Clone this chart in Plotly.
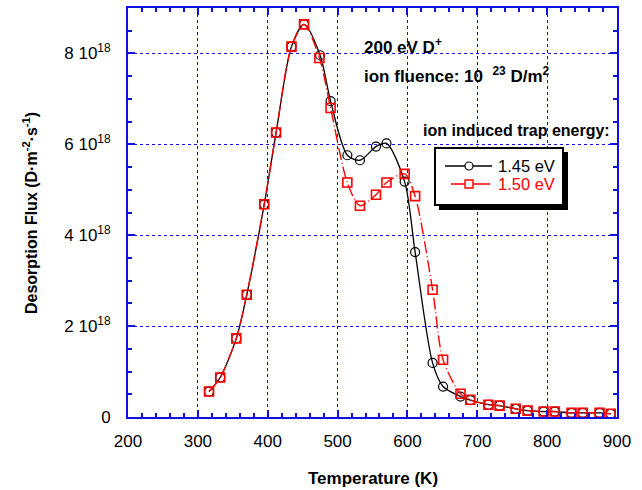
import plotly.graph_objects as go

# Temperature (K) of the TDS data points
temp_145 = [316, 332, 355, 370, 395, 412, 434, 452, 475, 490, 514, 532, 555, 570,
            596, 611, 636, 651, 676, 690, 716, 732, 755, 772, 795, 811, 835, 851, 875, 891]
# Desorption flux (units of 1e18 D m^-2 s^-1), trap energy 1.45 eV
flux_145 = [0.56, 0.87, 1.73, 2.69, 4.68, 6.26, 8.15, 8.64, 7.96, 6.95, 5.76, 5.65, 5.95, 6.02,
            5.18, 3.63, 1.19, 0.67, 0.45, 0.37, 0.27, 0.25, 0.18, 0.14, 0.12, 0.12, 0.09, 0.09, 0.09, 0.07]

temp_150 = [316, 332, 355, 370, 395, 412, 434, 452, 474, 490, 514, 532, 555, 570,
            596, 611, 636, 651, 676, 690, 716, 732, 755, 772, 795, 811, 835, 851, 875, 891]
# Desorption flux (units of 1e18 D m^-2 s^-1), trap energy 1.50 eV
flux_150 = [0.56, 0.87, 1.73, 2.69, 4.68, 6.26, 8.15, 8.64, 7.90, 6.80, 5.16, 4.65, 4.89, 5.16,
            5.35, 4.86, 2.80, 1.26, 0.51, 0.38, 0.27, 0.25, 0.18, 0.14, 0.12, 0.12, 0.09, 0.09, 0.09, 0.07]

y_tick_vals = [0, 2, 4, 6, 8]
y_tick_text = ["0", "2 10<sup>18</sup>", "4 10<sup>18</sup>", "6 10<sup>18</sup>", "8 10<sup>18</sup>"]
x_tick_vals = [200, 300, 400, 500, 600, 700, 800, 900]

SCALE = 1e18
FONT = "Liberation Sans, Arial, sans-serif"
BLUE = "#1010e0"

# plot area in pixels
W, H = 642, 490
L, R, T, B = 128, 25, 8, 73
PW, PH = W - L - R, H - T - B


def px(xp):
    return (xp - L) / PW


def py(yp):
    return (H - B - yp) / PH


fig = go.Figure()

fig.add_trace(go.Scatter(
    x=temp_145, y=[v * SCALE for v in flux_145], mode="lines+markers",
    line=dict(color="black", width=1.3, shape="spline", smoothing=0.8),
    marker=dict(symbol="circle-open", size=9, color="black", line=dict(width=1.2)),
    name="1.45 eV", showlegend=False,
))
fig.add_trace(go.Scatter(
    x=temp_150, y=[v * SCALE for v in flux_150], mode="lines+markers",
    line=dict(color="#ff0000", width=1.4, shape="spline", smoothing=0.8,
              dash="12px,3px,1px,3px"),
    marker=dict(symbol="square-open", size=9, color="#ff0000", line=dict(width=1.6)),
    name="1.50 eV", showlegend=False,
))

axis_common = dict(
    showline=True, linecolor=BLUE, linewidth=2, mirror="ticks",
    ticks="inside", tickcolor=BLUE, tickwidth=1.5, ticklen=7,
    showgrid=True, gridcolor=BLUE, griddash="dot", gridwidth=1,
    zeroline=False,
    tickfont=dict(family=FONT, size=17, color="black"),
)

fig.update_xaxes(
    range=[200, 900], tickvals=x_tick_vals,
    minor=dict(dtick=20, ticks="inside", ticklen=4, tickcolor=BLUE, showgrid=False),
    ticklabelstandoff=8,
    **axis_common,
)
fig.update_yaxes(
    range=[0, 9 * SCALE], tickvals=[v * SCALE for v in y_tick_vals], ticktext=y_tick_text,
    minor=dict(dtick=0.5 * SCALE, ticks="inside", ticklen=4, tickcolor=BLUE, showgrid=False),
    ticklabelstandoff=12,
    **axis_common,
)

annotations = [
    dict(text="<b>Temperature (K)</b>", x=0.5, y=py(478), xref="paper", yref="paper",
         showarrow=False, xanchor="center", yanchor="middle",
         font=dict(family=FONT, size=17, color="black")),
    dict(text="<b>Desorption Flux (D·m<sup>-2</sup>·s<sup>-1</sup>)</b>", x=px(30), y=py(213),
         xref="paper", yref="paper", showarrow=False, textangle=-90,
         xanchor="center", yanchor="middle",
         font=dict(family=FONT, size=16, color="black")),
    dict(text="<b>200 eV D<sup>+</sup></b>", x=px(362), y=py(46), xref="paper", yref="paper",
         showarrow=False, xanchor="left", yanchor="middle",
         font=dict(family=FONT, size=17, color="black")),
    dict(text="<b>ion fluence: 10&nbsp; <sup>23</sup> D/m<sup>2</sup></b>", x=px(362), y=py(75),
         xref="paper", yref="paper", showarrow=False, xanchor="left", yanchor="middle",
         font=dict(family=FONT, size=17, color="black")),
    dict(text="<b>ion induced trap energy:</b>", x=px(421), y=py(130), xref="paper", yref="paper",
         showarrow=False, xanchor="left", yanchor="middle",
         font=dict(family=FONT, size=16, color="black")),
    dict(text="1.45 eV", x=px(496), y=py(166), xref="paper", yref="paper",
         showarrow=False, xanchor="left", yanchor="middle",
         font=dict(family=FONT, size=16.5, color="black")),
    dict(text="1.50 eV", x=px(496), y=py(184), xref="paper", yref="paper",
         showarrow=False, xanchor="left", yanchor="middle",
         font=dict(family=FONT, size=16.5, color="#ff0000")),
]

shapes = [
    # legend drop shadow and frame
    dict(type="rect", xref="paper", yref="paper", x0=px(439), x1=px(568), y0=py(210), y1=py(152),
         fillcolor="black", line=dict(width=0), layer="above"),
    dict(type="rect", xref="paper", yref="paper", x0=px(435), x1=px(563), y0=py(205), y1=py(148),
         fillcolor="white", line=dict(color="black", width=2), layer="above"),
    # legend line samples
    dict(type="line", xref="paper", yref="paper", x0=px(445), x1=px(492), y0=py(166), y1=py(166),
         line=dict(color="black", width=1.3), layer="above"),
    dict(type="line", xref="paper", yref="paper", x0=px(451), x1=px(490), y0=py(184), y1=py(184),
         line=dict(color="#ff0000", width=1.4), layer="above"),
    # legend markers
    dict(type="circle", xref="paper", yref="paper", xsizemode="pixel", ysizemode="pixel",
         xanchor=px(469), yanchor=py(166), x0=-4, x1=4, y0=-4, y1=4,
         fillcolor="white", line=dict(color="black", width=1.2), layer="above"),
    dict(type="rect", xref="paper", yref="paper", xsizemode="pixel", ysizemode="pixel",
         xanchor=px(469), yanchor=py(184), x0=-4, x1=4, y0=-4, y1=4,
         fillcolor="white", line=dict(color="#ff0000", width=1.4), layer="above"),
]

fig.update_layout(
    width=W, height=H,
    margin=dict(l=L, r=R, t=T, b=B, autoexpand=False),
    paper_bgcolor="white", plot_bgcolor="white",
    font=dict(family=FONT, color="black"),
    annotations=annotations, shapes=shapes,
    showlegend=False,
)

fig.write_html("out.html")
